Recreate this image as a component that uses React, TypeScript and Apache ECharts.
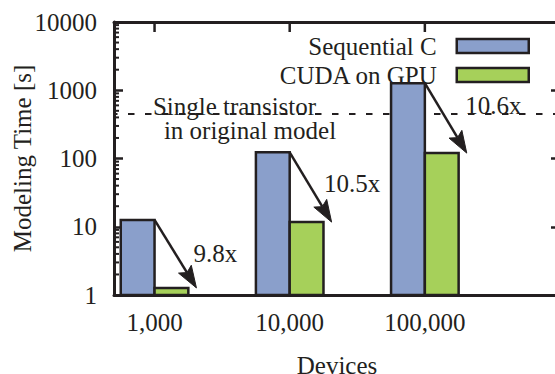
import React, { useEffect, useRef } from "react";
import * as echarts from "echarts";

// ---- data ----
const categories = ["1,000", "10,000", "100,000"];
const sequentialC = [12.6, 123, 1270];
const cudaGpu = [1.27, 11.7, 120];
const speedupLabels = ["9.8x", "10.5x", "10.6x"];
const referenceValue = 450; // single transistor in original model
const yTickValues = [1, 10, 100, 1000, 10000];

// ---- style / layout constants ----
const FONT = "'Liberation Serif', 'Times New Roman', Times, serif";
const FS = 25;
const TEXT = "#231f20";
const BLUE = "#8a9fcb";
const GREEN = "#a6d05a";
const EDGE = "#231f20";
const BAR_W = 0.25; // in x-axis units
const X_MIN = -0.3;
const X_MAX = 3.0;
const labelOffsets = [
  [40, 0],
  [41.5, -3.5],
  [47.5, -13],
];

export default function App() {
  const ref = useRef<HTMLDivElement>(null);

  useEffect(() => {
    if (!ref.current) return;
    const chart = echarts.init(ref.current, null, { renderer: "svg" });

    const minorTicks: number[][] = [];
    for (let k = 0; k < yTickValues.length - 1; k++) {
      for (let m = 2; m <= 9; m++) minorTicks.push([0, m * yTickValues[k]]);
    }

    const barSeries = (name: string, values: number[], color: string, side: number) => ({
      type: "custom",
      name,
      z: 3,
      clip: false,
      itemStyle: { color, borderColor: EDGE, borderWidth: 2.5 },
      data: values.map((v, i) => [i, v]),
      encode: { x: 0, y: 1 },
      renderItem: (params: any, api: any) => {
        const x = api.value(0);
        const v = api.value(1);
        const x0 = side < 0 ? x - BAR_W : x;
        const x1 = side < 0 ? x : x + BAR_W;
        const p0 = api.coord([x0, v]);
        const p1 = api.coord([x1, yTickValues[0]]);
        return {
          type: "rect",
          shape: { x: p0[0], y: p0[1], width: p1[0] - p0[0], height: p1[1] - p0[1] },
          style: { fill: color, stroke: EDGE, lineWidth: 2.5 },
        };
      },
    });

    const option: any = {
      animation: false,
      backgroundColor: "#ffffff",
      textStyle: { fontFamily: FONT, color: TEXT },
      grid: {
        left: 114,
        top: 22,
        right: -5,
        bottom: 79,
        containLabel: false,
        outerBoundsMode: "none",
      },
      legend: {
        data: [
          { name: "Sequential C", itemStyle: { color: BLUE, borderColor: EDGE, borderWidth: 2.5 } },
          { name: "CUDA on GPU", itemStyle: { color: GREEN, borderColor: EDGE, borderWidth: 2.5 } },
        ],
        orient: "vertical",
        align: "right",
        right: 25,
        top: 33.5,
        padding: 0,
        itemGap: 4,
        itemWidth: 72,
        itemHeight: 14,
        icon: "rect",
        textStyle: {
          fontFamily: FONT,
          fontSize: FS,
          lineHeight: 25,
          color: TEXT,
          padding: [0, 15, 0, 0],
        },
      },
      xAxis: [
        {
          type: "value",
          min: X_MIN,
          max: X_MAX,
          interval: 0.1,
          position: "bottom",
          name: "Devices",
          nameLocation: "middle",
          nameGap: 62,
          nameMoveOverlap: false,
          nameTextStyle: { fontFamily: FONT, fontSize: FS, color: TEXT, lineHeight: 16 },
          axisLine: { show: true, onZero: false, lineStyle: { color: EDGE, width: 3 } },
          axisTick: { show: false },
          splitLine: { show: false },
          axisLabel: {
            fontFamily: FONT,
            fontSize: FS,
            color: TEXT,
            margin: 15,
            showMinLabel: true,
            showMaxLabel: true,
            formatter: (v: number) => {
              const r = Math.round(v);
              return Math.abs(v - r) < 1e-6 && r >= 0 && r < categories.length ? categories[r] : "";
            },
          },
        },
        {
          type: "value",
          min: X_MIN,
          max: X_MAX,
          position: "top",
          axisLine: { show: true, onZero: false, lineStyle: { color: EDGE, width: 3 } },
          axisTick: { show: false },
          axisLabel: { show: false },
          splitLine: { show: false },
        },
      ],
      yAxis: [
        {
          type: "log",
          logBase: 10,
          min: 1,
          max: 10000,
          position: "left",
          name: "Modeling Time [s]",
          nameLocation: "middle",
          nameGap: 79,
          nameMoveOverlap: false,
          nameTextStyle: { fontFamily: FONT, fontSize: FS, color: TEXT },
          axisLine: { show: true, onZero: false, lineStyle: { color: EDGE, width: 3 } },
          axisTick: { show: true, inside: true, length: 9, lineStyle: { color: EDGE, width: 2.5 } },
          splitLine: { show: false },
          axisLabel: {
            fontFamily: FONT,
            fontSize: FS,
            color: TEXT,
            margin: 17,
            formatter: (v: number) => String(Math.round(v)),
          },
        },
        {
          type: "log",
          logBase: 10,
          min: 1,
          max: 10000,
          position: "right",
          axisLine: { show: true, onZero: false, lineStyle: { color: EDGE, width: 3 } },
          axisTick: { show: true, inside: true, length: 9, lineStyle: { color: EDGE, width: 2.5 } },
          axisLabel: { show: false },
          splitLine: { show: false },
        },
      ],
      series: [
        // reference dashed line
        {
          type: "custom",
          name: "ref",
          z: 1,
          clip: false,
          data: [[0, referenceValue]],
          encode: { x: 0, y: 1 },
          renderItem: (params: any, api: any) => {
            const a = api.coord([X_MIN, api.value(1)]);
            const b = api.coord([X_MAX, api.value(1)]);
            return {
              type: "line",
              shape: { x1: a[0], y1: a[1], x2: b[0], y2: b[1] },
              style: { stroke: EDGE, lineWidth: 2, lineDash: [6.5, 10.5], lineDashOffset: 3 },
            };
          },
        },
        // minor ticks on the log axes
        {
          type: "custom",
          name: "minor",
          z: 2,
          clip: false,
          data: minorTicks,
          encode: { x: 0, y: 1 },
          renderItem: (params: any, api: any) => {
            const a = api.coord([X_MIN, api.value(1)]);
            const b = api.coord([X_MAX, api.value(1)]);
            return {
              type: "group",
              children: [
                { type: "line", shape: { x1: a[0], y1: a[1], x2: a[0] + 5, y2: a[1] }, style: { stroke: EDGE, lineWidth: 2 } },
                { type: "line", shape: { x1: b[0], y1: b[1], x2: b[0] - 5, y2: b[1] }, style: { stroke: EDGE, lineWidth: 2 } },
              ],
            };
          },
        },
        // top category ticks
        {
          type: "custom",
          name: "topTicks",
          z: 2,
          clip: false,
          data: [...categories.map((c, i) => [i, 10000]), [categories.length, 10000]],
          encode: { x: 0, y: 1 },
          renderItem: (params: any, api: any) => {
            const p = api.coord([api.value(0), api.value(1)]);
            return {
              type: "line",
              shape: { x1: p[0], y1: p[1], x2: p[0], y2: p[1] + 10 },
              style: { stroke: EDGE, lineWidth: 2.5 },
            };
          },
        },
        barSeries("Sequential C", sequentialC, BLUE, -1),
        barSeries("CUDA on GPU", cudaGpu, GREEN, 1),
        // speed-up arrows
        {
          type: "custom",
          name: "arrows",
          z: 4,
          clip: false,
          data: sequentialC.map((v, i) => [i, v, cudaGpu[i]]),
          encode: { x: 0, y: 1 },
          renderItem: (params: any, api: any) => {
            const i = params.dataIndex;
            const x = api.value(0);
            const s = api.coord([x, api.value(1)]);
            const e = api.coord([x + 0.31, api.value(2)]);
            const dx = e[0] - s[0];
            const dy = e[1] - s[1];
            const len = Math.sqrt(dx * dx + dy * dy);
            const ux = dx / len;
            const uy = dy / len;
            const headL = 22;
            const headW = 7.5;
            const bx = e[0] - ux * headL;
            const by = e[1] - uy * headL;
            const mx = (s[0] + e[0]) / 2;
            const my = (s[1] + e[1]) / 2;
            return {
              type: "group",
              children: [
                {
                  type: "line",
                  shape: { x1: s[0], y1: s[1], x2: bx + ux * 4, y2: by + uy * 4 },
                  style: { stroke: EDGE, lineWidth: 2.5 },
                },
                {
                  type: "polygon",
                  shape: {
                    points: [
                      [e[0], e[1]],
                      [bx - uy * headW, by + ux * headW],
                      [bx + ux * 4, by + uy * 4],
                      [bx + uy * headW, by - ux * headW],
                    ],
                  },
                  style: { fill: EDGE, stroke: EDGE, lineWidth: 1 },
                },
                {
                  type: "text",
                  x: mx + labelOffsets[i][0],
                  y: my + labelOffsets[i][1],
                  style: {
                    text: speedupLabels[i],
                    fontFamily: FONT,
                    fontSize: FS,
                    fill: TEXT,
                    align: "center",
                    verticalAlign: "middle",
                  },
                },
              ],
            };
          },
        },
      ],
      graphic: [
        {
          type: "text",
          x: 234.5,
          y: 106,
          z: 10,
          style: {
            text: "Single transistor",
            fontFamily: FONT,
            fontSize: FS,
            lineHeight: 22,
            fill: TEXT,
            align: "center",
            verticalAlign: "middle",
          },
        },
        {
          type: "text",
          x: 250,
          y: 130.5,
          z: 10,
          style: {
            text: "in original model",
            fontFamily: FONT,
            fontSize: FS,
            lineHeight: 22,
            fill: TEXT,
            align: "center",
            verticalAlign: "middle",
          },
        },
      ],
    };

    chart.setOption(option);
    return () => chart.dispose();
  }, []);

  return (
    <div
      ref={ref}
      style={{ position: "fixed", left: 0, top: 0, width: 555, height: 374, background: "#fff" }}
    />
  );
}
